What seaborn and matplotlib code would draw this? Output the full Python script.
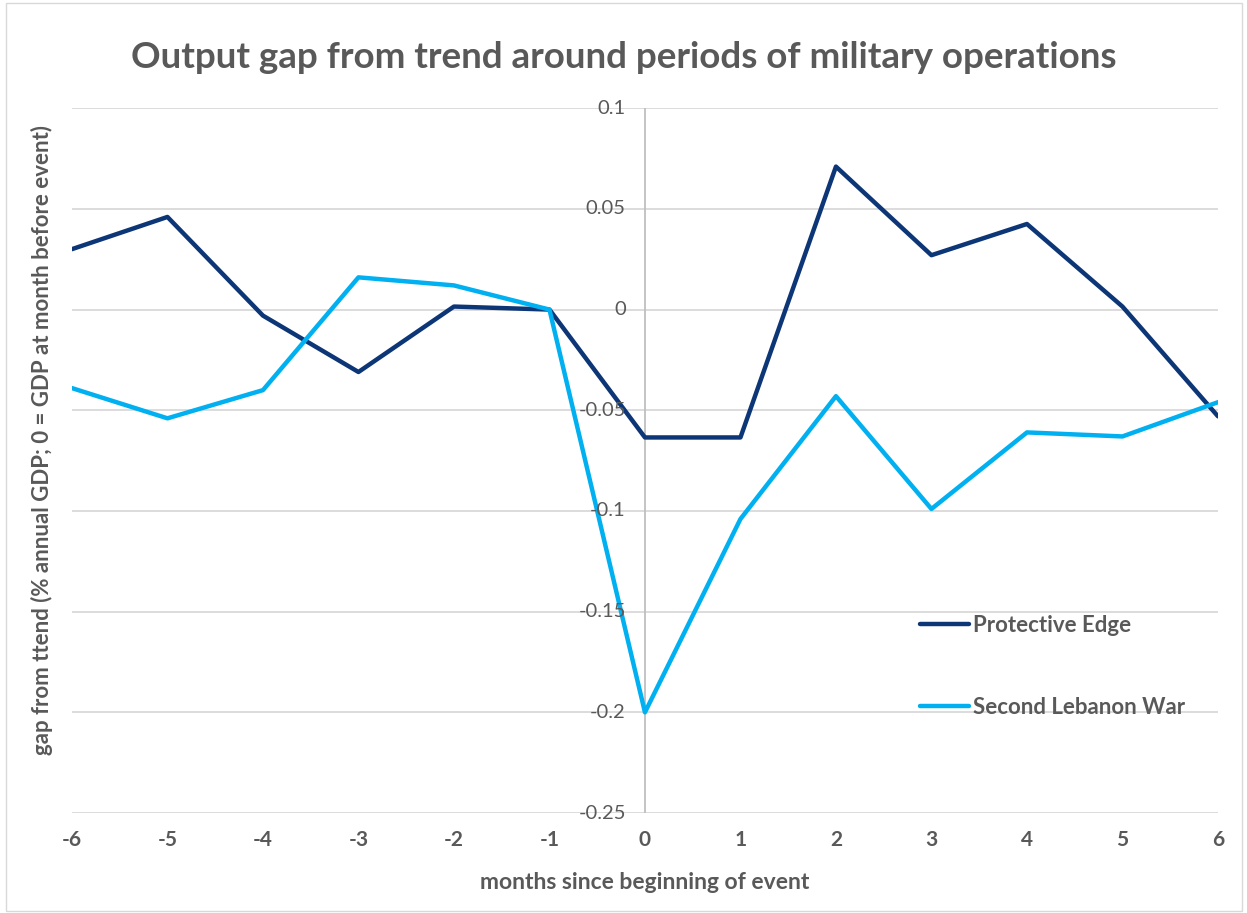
import matplotlib
matplotlib.use("Agg")
import matplotlib.pyplot as plt
import seaborn as sns
import pandas as pd
from matplotlib.lines import Line2D

months = [-6, -5, -4, -3, -2, -1, 0, 1, 2, 3, 4, 5, 6]
protective_edge = [0.030, 0.046, -0.003, -0.031, 0.0015, 0.0, -0.0635, -0.0635, 0.071, 0.027, 0.0425, 0.0015, -0.053]
second_lebanon = [-0.039, -0.054, -0.040, 0.016, 0.012, 0.0, -0.200, -0.104, -0.043, -0.099, -0.061, -0.063, -0.046]
series_names = ["Protective Edge", "Second Lebanon War"]
y_ticks = [0.1, 0.05, 0, -0.05, -0.1, -0.15, -0.2, -0.25]
y_tick_labels = ["0.1", "0.05", "0", "-0.05", "-0.1", "-0.15", "-0.2", "-0.25"]

df = pd.DataFrame({
    "month": months * 2,
    "gap": protective_edge + second_lebanon,
    "series": [series_names[0]] * len(months) + [series_names[1]] * len(months),
})

sns.set_theme(style="white")
plt.rcParams["font.family"] = ["Lato", "DejaVu Sans"]
text_col = "#595959"
grid_col = "#D9D9D9"

fig = plt.figure(figsize=(12.47, 9.13), dpi=100)
ax = fig.add_axes([0.0577, 0.1095, 0.919, 0.772])

palette = {series_names[0]: "#0D3677", series_names[1]: "#00B0F0"}
sns.lineplot(data=df, x="month", y="gap", hue="series", palette=palette,
             linewidth=3.2, ax=ax, legend=False)

ax.set_xlim(-6, 6)
ax.set_ylim(-0.25, 0.1)
for yv in y_ticks:
    ax.axhline(yv, color=grid_col, linewidth=1.3, zorder=0)
ax.axvline(0, color="#BFBFBF", linewidth=1.3, zorder=0.5)
for s in ax.spines.values():
    s.set_visible(False)

ax.set_xticks(months)
ax.set_xticklabels([str(m) for m in months], fontsize=15, fontweight="bold", color=text_col)
ax.tick_params(axis="x", length=0, pad=12)
ax.set_yticks([])
for yv, lab in zip(y_ticks, y_tick_labels):
    ax.text(-0.2, yv, lab, ha="right", va="center", fontsize=14.5,
            color=text_col, transform=ax.transData)

ax.set_xlabel("months since beginning of event", fontsize=16.5, fontweight="bold",
              color=text_col, labelpad=16)
ax.set_ylabel("gap from ttend (% annual GDP; 0 = GDP at month before event)", fontsize=16,
              fontweight="bold", color=text_col)
ax.yaxis.set_label_coords(-0.0166, 0.529)

fig.text(0.5, 0.937, "Output gap from trend around periods of military operations",
         ha="center", va="center", fontsize=26.5, fontweight="bold", color=text_col)

handles = [Line2D([0], [0], color=palette[n], linewidth=3.2) for n in series_names]
leg = ax.legend(handles, series_names, loc="upper left", bbox_to_anchor=(0.732, 0.294),
                frameon=False, fontsize=16, handlelength=2.2, handletextpad=0.2,
                labelspacing=2.75, borderaxespad=0)
for t in leg.get_texts():
    t.set_color(text_col)
    t.set_fontweight("bold")

fig.add_artist(plt.Rectangle((0.005, 0.002), 0.991, 0.995, transform=fig.transFigure,
                             fill=False, edgecolor="#D9D9D9", linewidth=1))

fig.savefig("out.png", dpi=100)
